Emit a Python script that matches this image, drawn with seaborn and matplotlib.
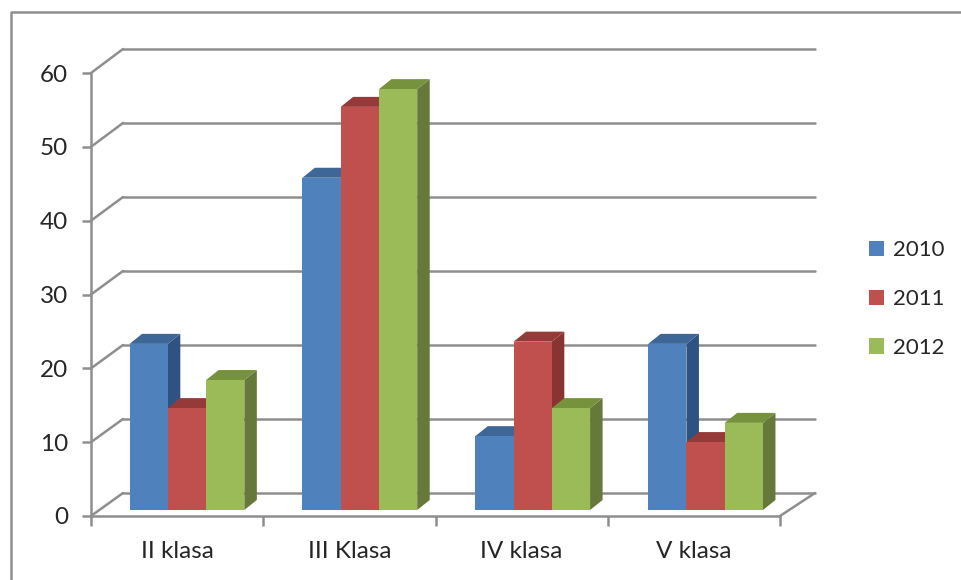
import matplotlib
matplotlib.use("Agg")
import matplotlib.pyplot as plt
from matplotlib.lines import Line2D
from matplotlib.patches import ConnectionPatch, Polygon
import pandas as pd
import seaborn as sns

categories = ["II klasa", "III Klasa", "IV klasa", "V klasa"]
years = ["2010", "2011", "2012"]
values_2010 = [22.5, 45.0, 10.0, 22.5]
values_2011 = [13.8, 54.6, 22.8, 9.2]
values_2012 = [17.6, 57.0, 13.8, 11.8]
yticks = [0, 10, 20, 30, 40, 50, 60]

front_colors = ["#4F81BD", "#C0504D", "#9BBB59"]
side_colors = ["#2F5380", "#8A3432", "#66783A"]
top_colors = ["#3E6797", "#953A38", "#76923C"]
line_color = "#8E8E8E"
text_color = "#262626"
line_w = 1.8

W, H = 961, 580
sns.set_theme(style="white")
plt.rcParams["font.family"] = ["Lato", "DejaVu Sans"]

df = pd.DataFrame({
    "klasa": categories * 3,
    "year": [y for y in years for _ in categories],
    "value": values_2010 + values_2011 + values_2012,
})

fig = plt.figure(figsize=(W / 100, H / 100), dpi=100, facecolor="white")


def px_axes(left, right, top, bottom, z):
    a = fig.add_axes([left / W, 1 - bottom / H, (right - left) / W, (bottom - top) / H])
    a.set_zorder(z)
    a.patch.set_alpha(0)
    return a


# Outer chart frame (top and left only are visible in the reference)
fig.add_artist(Line2D([10.5 / W, 10.5 / W, 1], [0, 1 - 11.5 / H, 1 - 11.5 / H],
                      color=line_color, lw=line_w))

# Back wall gridlines
wall = px_axes(123, 815, 49, 493, 0)
wall.set_xlim(-0.5, 3.5)
wall.set_ylim(0, 60)
wall.set_xticks([])
wall.set_yticks([])
for s in wall.spines.values():
    s.set_visible(False)
for v in yticks:
    wall.axhline(v, color=line_color, lw=line_w, clip_on=False)

# Front axis
main = px_axes(91, 780, 73, 516, 1)
main.set_xlim(-0.5, 3.5)
main.set_ylim(0, 60)
sns.despine(ax=main, top=True, right=True)
for name in ("left", "bottom"):
    main.spines[name].set_color(line_color)
    main.spines[name].set_linewidth(line_w)
main.set_yticks(yticks)
main.set_yticklabels([str(v) for v in yticks])
main.set_xticks([-0.5, 0.5, 1.5, 2.5, 3.5])
main.set_xticklabels([])
main.set_xticks(range(len(categories)), labels=categories, minor=True)
main.tick_params(axis="y", direction="out", length=6.5, width=line_w, color=line_color,
                 labelsize=17.5, labelcolor=text_color, pad=10, left=True)
main.tick_params(axis="x", which="major", direction="out", length=7, width=line_w,
                 color=line_color, bottom=True)
main.tick_params(axis="x", which="minor", length=0, labelsize=17.5,
                 labelcolor=text_color, pad=18, bottom=True)

# Side-wall connectors between front axis and back wall
for v in yticks:
    main.add_artist(ConnectionPatch((-0.5, v), (-0.5, v), "data", "data",
                                    axesA=main, axesB=wall, color=line_color,
                                    lw=line_w, zorder=1))
main.add_artist(ConnectionPatch((3.5, 0), (3.5, 0), "data", "data",
                                axesA=main, axesB=wall, color=line_color, lw=line_w))

# Bars with seaborn, front plane shifted relative to the axis
bars = px_axes(100.5, 792, 67, 510, 2)
sns.barplot(data=df, x="klasa", y="value", hue="year", order=categories,
            hue_order=years, palette=front_colors, saturation=1, width=0.664,
            gap=0, dodge=True, errorbar=None, linewidth=0, ax=bars)
bars.set_xlim(-0.5, 3.5)
bars.set_ylim(0, 60)
bars.axis("off")

# Fake 3D: depth expressed in data units of the bar axes
depth_x = 12.5 / (691.5 / 4)
depth_y = 10 / (443 / 60)
n_cat = len(categories)
for i, patch in enumerate(bars.patches[:n_cat * len(years)]):
    h = i // n_cat
    patch.set_zorder(10 + 3 * h + 2)
    x0, w, v = patch.get_x(), patch.get_width(), patch.get_height()
    x1 = x0 + w
    bars.add_patch(Polygon([(x1, 0), (x1 + depth_x, depth_y), (x1 + depth_x, v + depth_y), (x1, v)],
                           closed=True, facecolor=side_colors[h], edgecolor="none",
                           clip_on=False, zorder=10 + 3 * h))
    bars.add_patch(Polygon([(x0, v), (x0 + depth_x, v + depth_y), (x1 + depth_x, v + depth_y), (x1, v)],
                           closed=True, facecolor=top_colors[h], edgecolor="none",
                           clip_on=False, zorder=10 + 3 * h + 1))

# Legend
handles, labels = bars.get_legend_handles_labels()
bars.get_legend().remove()
fig.legend(handles[:3], labels[:3], loc="center left",
           bbox_to_anchor=(862 / W, 1 - 299 / H), frameon=False, fontsize=16,
           labelcolor=text_color, handlelength=0.68, handleheight=0.68,
           handletextpad=0.42, labelspacing=1.3, borderpad=0.3, borderaxespad=0)

fig.savefig("out.png", dpi=100, facecolor="white")
